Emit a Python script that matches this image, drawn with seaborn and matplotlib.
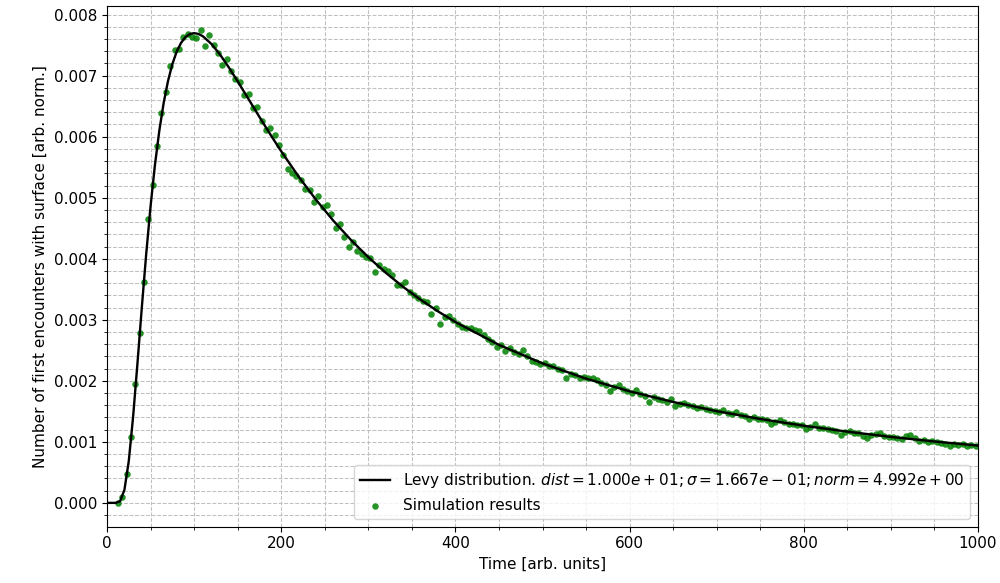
import numpy as np
import pandas as pd
import matplotlib
matplotlib.use("Agg")
import matplotlib.pyplot as plt
from matplotlib.ticker import MultipleLocator
import seaborn as sns

# fit parameters shown in the legend
dist = 1.000e+01
sigma = 1.667e-01
norm = 4.992e+00

# fitted Levy curve (values in units of 1e-3)
fit_time = [0, 5, 10, 15, 20, 25, 30, 35, 40, 45, 50, 55, 60, 65, 70, 75, 80, 85,
            90, 95, 100, 105, 110, 120, 130, 140, 150, 160, 170, 180, 190, 200,
            220, 240, 260, 280, 300, 320, 340, 360, 380, 400, 450, 500, 550, 600,
            650, 700, 750, 800, 850, 900, 950, 1000]
fit_vals = [0.0, 0.0, 0.0003, 0.027, 0.213, 0.684, 1.415, 2.292, 3.207, 4.076,
            4.858, 5.531, 6.092, 6.548, 6.909, 7.188, 7.393, 7.537, 7.631, 7.681,
            7.697, 7.683, 7.646, 7.518, 7.341, 7.132, 6.907, 6.674, 6.440, 6.208,
            5.981, 5.761, 5.346, 4.966, 4.621, 4.309, 4.026, 3.771, 3.539, 3.329,
            3.138, 2.963, 2.589, 2.286, 2.036, 1.828, 1.653, 1.503, 1.375, 1.264,
            1.167, 1.081, 1.006, 0.939]

# simulation results, one point per 5-unit time bin starting at 12.5 (units of 1e-3)
sim_vals = [
    0.00, 0.10, 0.48, 1.08, 1.94, 2.79, 3.62, 4.65, 5.21, 5.84,
    6.38, 6.74, 7.15, 7.42, 7.43, 7.64, 7.69, 7.64, 7.61, 7.74,
    7.49, 7.67, 7.50, 7.37, 7.18, 7.28, 7.08, 6.94, 6.89, 6.68,
    6.70, 6.47, 6.49, 6.25, 6.11, 6.14, 6.03, 5.86, 5.70, 5.47,
    5.41, 5.36, 5.29, 5.15, 5.13, 4.93, 5.02, 4.85, 4.88, 4.74,
    4.51, 4.57, 4.36, 4.19, 4.28, 4.13, 4.08, 4.03, 4.02, 3.79,
    3.90, 3.84, 3.80, 3.73, 3.57, 3.57, 3.62, 3.46, 3.40, 3.36,
    3.30, 3.29, 3.10, 3.19, 2.93, 3.05, 3.06, 2.99, 2.93, 2.88,
    2.86, 2.87, 2.84, 2.82, 2.75, 2.68, 2.64, 2.55, 2.59, 2.49,
    2.53, 2.47, 2.44, 2.50, 2.40, 2.33, 2.31, 2.28, 2.29, 2.24,
    2.25, 2.19, 2.17, 2.04, 2.11, 2.09, 2.05, 2.06, 2.05, 2.04,
    2.02, 1.97, 1.93, 1.84, 1.90, 1.93, 1.87, 1.84, 1.80, 1.85,
    1.79, 1.75, 1.66, 1.73, 1.71, 1.69, 1.66, 1.71, 1.59, 1.62,
    1.63, 1.60, 1.58, 1.55, 1.57, 1.53, 1.52, 1.51, 1.49, 1.52,
    1.47, 1.46, 1.49, 1.44, 1.42, 1.37, 1.40, 1.37, 1.38, 1.35,
    1.30, 1.33, 1.36, 1.32, 1.30, 1.29, 1.27, 1.28, 1.21, 1.25,
    1.29, 1.23, 1.22, 1.21, 1.20, 1.17, 1.12, 1.16, 1.17, 1.15,
    1.14, 1.10, 1.07, 1.12, 1.13, 1.14, 1.09, 1.08, 1.08, 1.06,
    1.05, 1.10, 1.11, 1.06, 1.02, 1.03, 1.00, 1.02, 0.99, 0.98,
    0.96, 0.93, 0.97, 0.95, 0.96, 0.94, 0.95, 0.93,
]
sim_time = 12.5 + 5 * np.arange(len(sim_vals))

fit_df = pd.DataFrame({"time": fit_time, "value": np.array(fit_vals) * 1e-3})
sim_df = pd.DataFrame({"time": sim_time, "value": np.array(sim_vals) * 1e-3})

plt.rcParams["font.size"] = 11

fig = plt.figure(figsize=(10, 5.83), dpi=100)
ax = fig.add_axes([0.107, 0.0966, 0.871, 0.893])

label = (f"Levy distribution. $dist={dist:.3e}; \\sigma={sigma:.3e}; "
         f"norm={norm:.3e}$")
sns.lineplot(data=fit_df, x="time", y="value", color="black", linewidth=1.7,
             label=label, ax=ax, zorder=3)
sns.scatterplot(data=sim_df, x="time", y="value", color="green", s=22,
                linewidth=0, alpha=0.85, label="Simulation results", ax=ax, zorder=2)

ax.set_xlim(0, 1000)
ax.set_ylim(-0.00039, 0.00814)
ax.xaxis.set_major_locator(MultipleLocator(200))
ax.xaxis.set_minor_locator(MultipleLocator(50))
ax.yaxis.set_major_locator(MultipleLocator(0.001))
ax.yaxis.set_minor_locator(MultipleLocator(0.0002))
ax.grid(which="both", linestyle="--", color="#c0c0c0", linewidth=0.75)
ax.set_axisbelow(True)

ax.set_xlabel("Time [arb. units]")
ax.set_ylabel("Number of first encounters with surface [arb. norm.]")
ax.legend(loc="lower right")

fig.savefig("out.png", dpi=100)
